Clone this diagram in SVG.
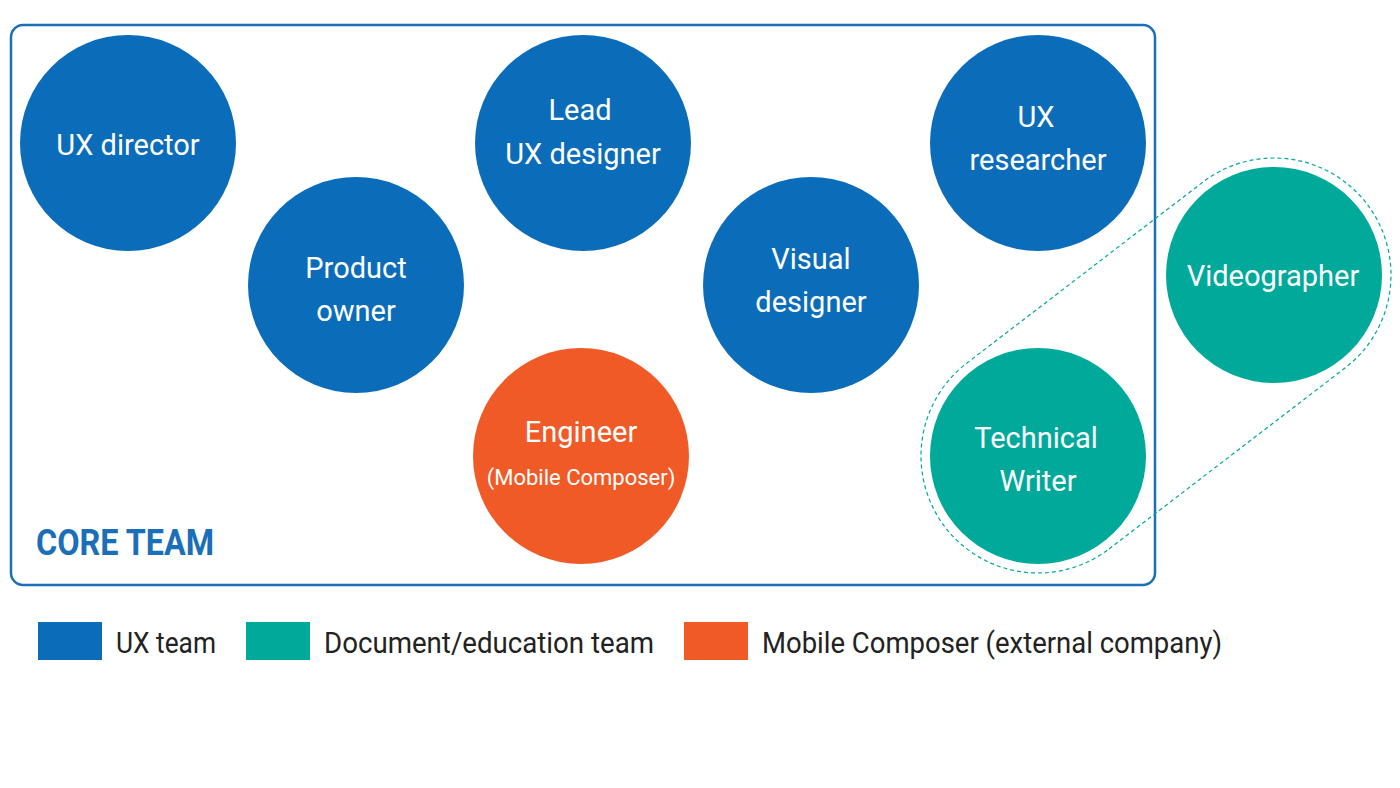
<svg xmlns="http://www.w3.org/2000/svg" width="1400" height="788" viewBox="0 0 1400 788">
<style>
.b{fill:#0b6dba}.t{fill:#00a99a}.o{fill:#f05a26}
.l{font-family:Roboto,"Liberation Sans",sans-serif;font-size:29px;fill:#fff;text-anchor:middle}
.g{font-family:Roboto,"Liberation Sans",sans-serif;font-size:29px;fill:#222}
</style>
<rect width="1400" height="788" fill="#fff"/>
<rect x="11" y="25" width="1144" height="560" rx="12" fill="none" stroke="#1a6fb8" stroke-width="2.5"/>
<text x="36" y="555" font-family="Roboto,'Liberation Sans',sans-serif" font-weight="bold" font-size="36" fill="#1a6fb8" textLength="178" lengthAdjust="spacingAndGlyphs">CORE TEAM</text>
<g id="connectors">
<path d="M1109,549 L1345,368 A117 117 0 0 0 1203,182 L967,363 A117 117 0 0 0 1109,549 Z" fill="none" stroke="#00a99a" stroke-width="1.2" stroke-dasharray="4,3"/>
</g>
<g id="ux-director"><circle class="b" cx="128" cy="143" r="108"/><text class="l" x="128" y="155">UX director</text></g>
<g id="lead-ux"><circle class="b" cx="583" cy="143" r="108"/><text class="l" x="580" y="120">Lead</text><text class="l" x="583" y="164">UX designer</text></g>
<g id="ux-researcher"><circle class="b" cx="1038" cy="143" r="108"/><text class="l" x="1036" y="127">UX</text><text class="l" x="1038" y="170">researcher</text></g>
<g id="product-owner"><circle class="b" cx="356" cy="285" r="108"/><text class="l" x="356" y="278">Product</text><text class="l" x="356" y="321">owner</text></g>
<g id="visual-designer"><circle class="b" cx="811" cy="285" r="108"/><text class="l" x="811" y="269">Visual</text><text class="l" x="811" y="312">designer</text></g>
<g id="engineer"><circle class="o" cx="581" cy="456" r="108"/><text class="l" x="581" y="442">Engineer</text><text class="l" x="581" y="485" style="font-size:22px">(Mobile Composer)</text></g>
<g id="technical-writer"><circle class="t" cx="1038" cy="456" r="108"/><text class="l" x="1036" y="448">Technical</text><text class="l" x="1038" y="491">Writer</text></g>
<g id="videographer"><circle class="t" cx="1274" cy="275" r="108"/><text class="l" x="1273" y="286">Videographer</text></g>
<g id="legend">
<rect class="b" x="38" y="622" width="64" height="38"/><text class="g" x="116" y="653" textLength="100" lengthAdjust="spacingAndGlyphs">UX team</text>
<rect class="t" x="246" y="622" width="64" height="38"/><text class="g" x="324" y="653" textLength="330" lengthAdjust="spacingAndGlyphs">Document/education team</text>
<rect class="o" x="684" y="622" width="64" height="38"/><text class="g" x="762" y="653" textLength="460" lengthAdjust="spacingAndGlyphs">Mobile Composer (external company)</text>
</g>
</svg>
